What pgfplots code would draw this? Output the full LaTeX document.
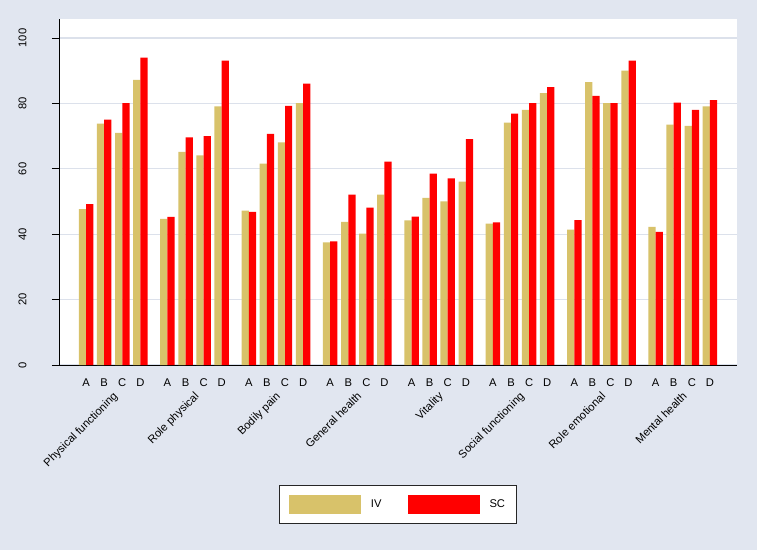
\documentclass[border=0pt]{standalone}
\usepackage{fontspec}
\setmainfont{Liberation Sans}
\usepackage{pgfplots}
\usepackage{pgfplotstable}
\pgfplotsset{compat=1.18}
\definecolor{bgcol}{RGB}{225,230,240}
\definecolor{gridcol}{RGB}{220,225,235}
\definecolor{ivcol}{RGB}{216,194,106}
\definecolor{sccol}{RGB}{255,0,0}
\newcommand{\chartfont}{\fontsize{11.2bp}{13bp}\selectfont}

% x = group*4.5 + subgroup (A..D)
\pgfplotstableread{
x    iv    sc
0    47.7  49.2
1    73.8  75.0
2    71.0  80.1
3    87.2  94.0
4.5  44.7  45.3
5.5  65.2  69.6
6.5  64.1  70.0
7.5  79.1  93.1
9    47.2  46.8
10   61.6  70.7
11   68.1  79.2
12   80.1  86.0
13.5 37.5  37.8
14.5 43.8  52.1
15.5 40.2  48.1
16.5 52.1  62.2
18   44.2  45.4
19   51.1  58.5
20   50.0  57.1
21   56.1  69.1
22.5 43.2  43.6
23.5 74.1  76.9
24.5 78.0  80.1
25.5 83.1  85.0
27   41.4  44.3
28   86.5  82.3
29   80.1  80.1
30   90.0  93.1
31.5 42.2  40.7
32.5 73.5  80.2
33.5 73.1  78.0
34.5 79.1  81.0
}\sfdata

\begin{document}
\begin{tikzpicture}
\fill[bgcol] (0,0) rectangle (757bp,550bp);
\begin{axis}[
  at={(59bp,185bp)}, anchor=south west,
  scale only axis, width=678bp, height=346bp,
  /pgf/number format/assume math mode=true,
  tick label style={font=\chartfont},
  axis background/.style={fill=white},
  axis x line*=bottom, axis y line*=left,
  axis line style={-, black, line width=0.8bp},
  xmin=-1.5, xmax=36, ymin=0, ymax=105.8,
  ybar, bar width=0.4,
  xtick={0,1,2,3,4.5,5.5,6.5,7.5,9,10,11,12,13.5,14.5,15.5,16.5,18,19,20,21,22.5,23.5,24.5,25.5,27,28,29,30,31.5,32.5,33.5,34.5},
  xticklabels={A,B,C,D,A,B,C,D,A,B,C,D,A,B,C,D,A,B,C,D,A,B,C,D,A,B,C,D,A,B,C,D},
  xtick style={draw=none},
  xticklabel shift=3bp,
  ytick={0,20,40,60,80,100},
  tick align=outside, major tick length=7bp,
  ytick style={black, line width=0.6bp},
  yticklabel style={rotate=90, anchor=south},
  yticklabel shift=22bp,
  ymajorgrids, grid style={gridcol, line width=1.2bp},
  clip=false,
  legend columns=2,
  legend image code/.code={\fill[#1] (0bp,-9.5bp) rectangle (72bp,9.5bp);},
  legend style={at={(0.5,-0.346)}, anchor=north, draw=black!85, fill=white,
    font=\chartfont,
    line width=0.6bp, inner xsep=9.5bp, inner ysep=9.5bp,
    /tikz/every odd column/.append style={column sep=8bp},
    /tikz/every even column/.append style={column sep=24bp}},
]
\addplot[fill=ivcol, draw=none, bar shift=-0.2] table[x=x, y=iv] {\sfdata};
\addlegendentry{IV}
\addplot[fill=sccol, draw=none, bar shift=0.2] table[x=x, y=sc] {\sfdata};
\addlegendentry{SC}
\foreach \g/\name in {0/Physical functioning, 1/Role physical, 2/Bodily pain,
    3/General health, 4/Vitality, 5/Social functioning, 6/Role emotional,
    7/Mental health}{
  \edef\temp{\noexpand\node[font=\noexpand\chartfont, yshift=-26bp, rotate=45,
    anchor=north east, inner sep=0pt]
    at (axis cs:\g*4.5+1.45,0) {\name};}
  \temp
}
\end{axis}
\end{tikzpicture}
\end{document}
